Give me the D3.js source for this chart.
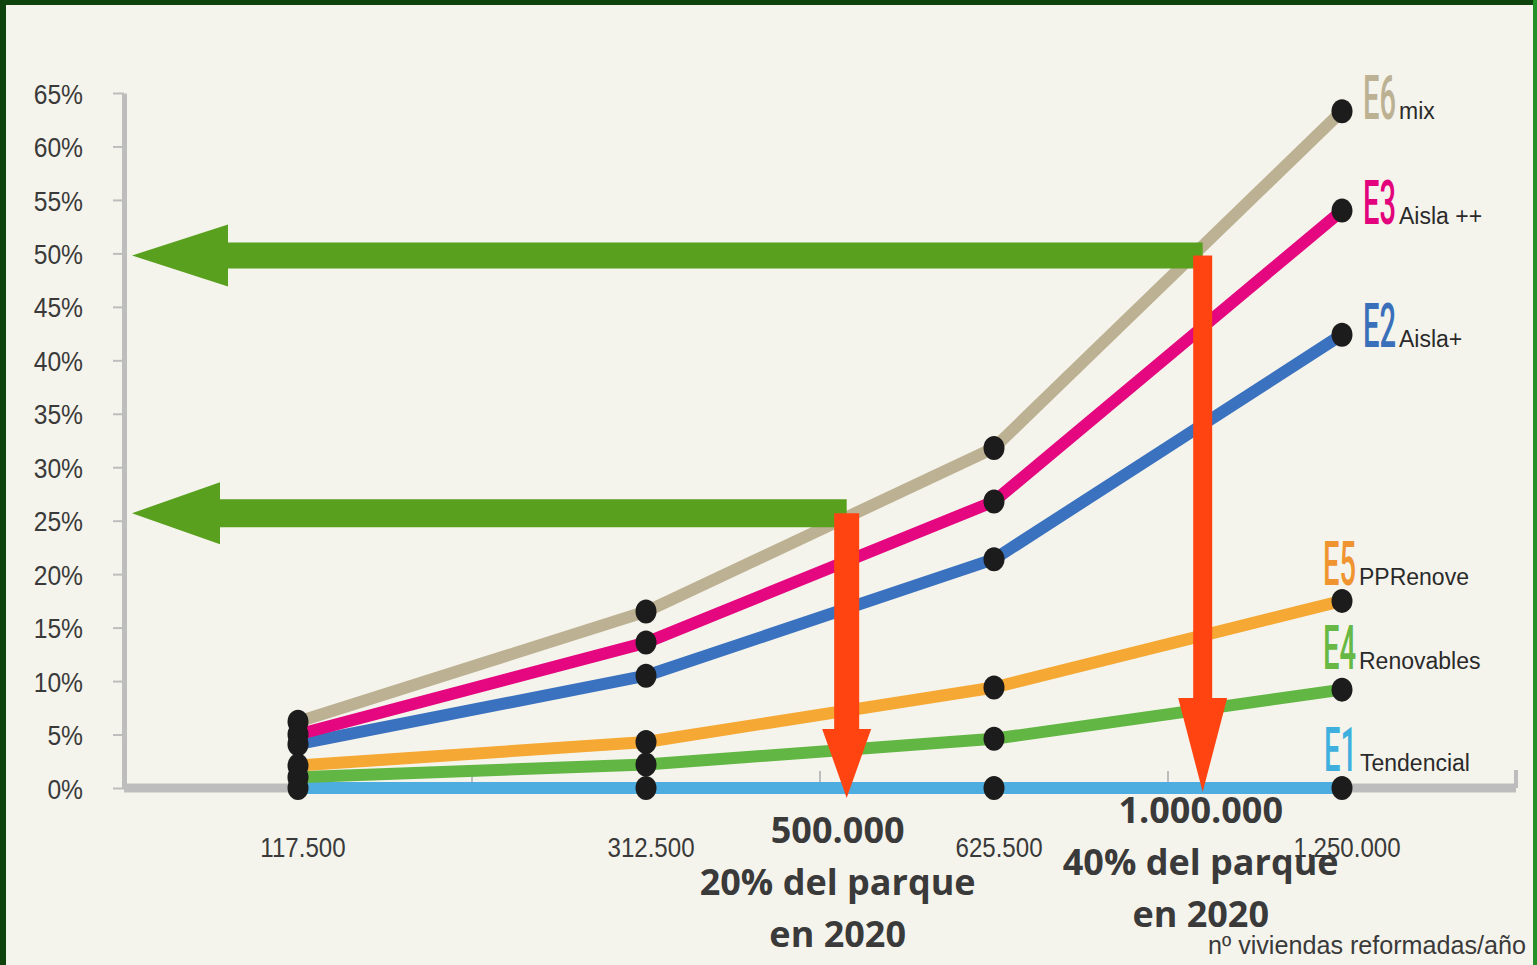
<!DOCTYPE html>
<html>
<head>
<meta charset="utf-8">
<script src="https://cdn.jsdelivr.net/npm/d3@7"></script>
<style>
  html, body { margin: 0; padding: 0; background: #0e430e; }
  svg { display: block; }
</style>
</head>
<body>
<svg id="chart" width="1537" height="965"></svg>
<script>
// ---------------- DATA ----------------
const categories = ["117.500", "312.500", "625.500", "1.250.000"];
const seriesCodes = ["E6", "E3", "E2", "E5", "E4", "E1"];
const seriesNames = ["mix", "Aisla ++", "Aisla+", "PPRenove", "Renovables", "Tendencial"];
const valuesE6 = [6.2, 16.5, 31.8, 63.3];
const valuesE3 = [5.0, 13.6, 26.8, 54.0];
const valuesE2 = [4.1, 10.5, 21.4, 42.4];
const valuesE5 = [2.1, 4.3, 9.4, 17.5];
const valuesE4 = [1.0, 2.2, 4.6, 9.2];
const valuesE1 = [0, 0, 0, 0];
const yTickValues = [0, 5, 10, 15, 20, 25, 30, 35, 40, 45, 50, 55, 60, 65];
const xAxisTitle = "nº viviendas reformadas/año";
// annotations: position on the x axis (viviendas/año, as drawn) and level (%)
const annotationX = [493000, 1000000];
const annotationY = [25.7, 49.8];
const annotationText = [
  ["500.000", "20% del parque", "en 2020"],
  ["1.000.000", "40% del parque", "en 2020"]
];
const categoryNumbers = [117500, 312500, 625500, 1250000];

const seriesValues = [valuesE6, valuesE3, valuesE2, valuesE5, valuesE4, valuesE1];

// ---------------- STYLE ----------------
const lineColors = ["#bdb193", "#e4077f", "#3b72bf", "#f5a833", "#62b744", "#4dade1"];
const codeColors = ["#bcb192", "#e2037d", "#3a6fba", "#ef9430", "#68b845", "#3fb0de"];
const labelDx = [21, 21, 21, -19, -19, -18];
const labelDy = [8, 13, 12, -16, -21, -17];

const W = 1537, H = 965;
const svg = d3.select("#chart");

// frame
svg.append("rect").attr("x", 0).attr("y", 0).attr("width", W).attr("height", H).attr("fill", "#0e430e");
svg.append("rect").attr("x", 1533).attr("y", 0).attr("width", 4).attr("height", H).attr("fill", "#23902a");
svg.append("rect").attr("x", 6).attr("y", 5).attr("width", 1527).attr("height", H - 5).attr("fill", "#f5f4ec");

// scales
const y = d3.scaleLinear().domain([0, 65]).range([788, 93]);
const xBand = d3.scaleBand().domain(categories).range([124, 1516]).padding(0);
const xc = c => xBand(c) + xBand.bandwidth() / 2;
const xNum = d3.scaleLinear().domain(categoryNumbers).range(categories.map(xc));

function squeeze(sel, f) {
  sel.each(function () {
    const w = this.getComputedTextLength();
    this.setAttribute("textLength", w * f);
    this.setAttribute("lengthAdjust", "spacingAndGlyphs");
  });
}

// y axis
const gy = svg.append("g").attr("transform", "translate(124,0)")
  .call(d3.axisLeft(y).tickValues(yTickValues).tickFormat(d => d + "%")
    .tickSize(11).tickSizeOuter(0).tickPadding(30));
gy.select(".domain").attr("stroke", "#bdbdbd").attr("stroke-width", 5);
gy.selectAll(".tick line").attr("stroke", "#bdbdbd").attr("stroke-width", 2);
gy.selectAll(".tick text")
  .attr("font-family", "Liberation Sans, Arial, sans-serif")
  .attr("font-size", 28).attr("fill", "#3a3a3a").attr("dy", "0.36em");
squeeze(gy.selectAll(".tick text"), 0.88);

// x axis line and band ticks
const y0 = y(0);
svg.append("line").attr("x1", 124).attr("x2", xBand.range()[1])
  .attr("y1", y0).attr("y2", y0).attr("stroke", "#bdbdbd").attr("stroke-width", 9);
const bounds = categories.slice(1).map(c => xBand(c)).concat([xBand.range()[1]]);
svg.append("g").selectAll("line").data(bounds).join("line")
  .attr("x1", d => d).attr("x2", d => d)
  .attr("y1", (d, i) => i === bounds.length - 1 ? y0 : y0 - 4)
  .attr("y2", (d, i) => i === bounds.length - 1 ? y0 - 18 : y0 - 17)
  .attr("stroke", "#bdbdbd").attr("stroke-width", (d, i) => i === bounds.length - 1 ? 4 : 2);

// x labels via axis
const gx = svg.append("g").attr("transform", `translate(5,${y0})`)
  .call(d3.axisBottom(xBand).tickSize(0).tickPadding(49));
gx.select(".domain").remove();
gx.selectAll(".tick text")
  .attr("font-family", "Liberation Sans, Arial, sans-serif")
  .attr("font-size", 28).attr("fill", "#3a3a3a");
squeeze(gx.selectAll(".tick text"), 0.86);

// lines
const line = d3.line().x((d, i) => xc(categories[i])).y(d => y(d));
const order = [5, 4, 3, 2, 1, 0];
svg.append("g").selectAll("path").data(order).join("path")
  .attr("d", k => line(seriesValues[k]))
  .attr("fill", "none").attr("stroke", k => lineColors[k])
  .attr("stroke-width", 12).attr("stroke-linejoin", "round");

// dots
const dots = [];
seriesValues.forEach((vals, k) => vals.forEach((v, i) => dots.push({ k, i, v })));
svg.append("g").selectAll("ellipse").data(dots).join("ellipse")
  .attr("cx", d => xc(categories[d.i])).attr("cy", d => y(d.v))
  .attr("rx", 10.5).attr("ry", 12).attr("fill", "#1c1c1c");

// series labels
const lastX = xc(categories[categories.length - 1]);
const lab = svg.append("g");
seriesCodes.forEach((code, k) => {
  const lx = lastX + labelDx[k];
  const ly = y(seriesValues[k][seriesValues[k].length - 1]) + labelDy[k];
  const t = lab.append("text").attr("x", 0).attr("y", 0).text(code)
    .attr("font-family", "Roboto, Liberation Sans, sans-serif").attr("font-weight", 500)
    .attr("font-size", 62).attr("fill", codeColors[k]);
  const w = t.node().getComputedTextLength();
  t.attr("transform", `translate(${lx},${ly}) scale(${33 / w},1)`);
  lab.append("text").attr("x", lx + 36).attr("y", ly).text(seriesNames[k])
    .attr("font-family", "Liberation Sans, Arial, sans-serif")
    .attr("font-size", 23).attr("fill", "#2a2a2a");
});

// annotation arrows
const green = "#58a01e", red = "#ff4412";
const annStyle = [
  { gThick: 28, gHeadLen: 88, gHeadH: 62, rW: 25, rHeadW: 49, rHeadLen: 69, tipDrop: 10, textDx: -9, textY0: 843 },
  { gThick: 26, gHeadLen: 96, gHeadH: 62, rW: 19, rHeadW: 49, rHeadLen: 94, tipDrop: 4, textDx: -2, textY0: 823 }
];
const ann = svg.append("g");
annotationX.forEach((xv, a) => {
  const s = annStyle[a];
  const ax = xNum(xv), ay = y(annotationY[a]);
  const tipX = 132;
  // green horizontal arrow
  ann.append("path").attr("fill", green).attr("d",
    `M${tipX},${ay} L${tipX + s.gHeadLen},${ay - s.gHeadH / 2} L${tipX + s.gHeadLen},${ay - s.gThick / 2}
     L${ax},${ay - s.gThick / 2} L${ax},${ay + s.gThick / 2} L${tipX + s.gHeadLen},${ay + s.gThick / 2}
     L${tipX + s.gHeadLen},${ay + s.gHeadH / 2} Z`);
  // red vertical arrow
  const tipY = y0 + s.tipDrop, baseY = tipY - s.rHeadLen;
  ann.append("path").attr("fill", red).attr("d",
    `M${ax - s.rW / 2},${ay} L${ax + s.rW / 2},${ay} L${ax + s.rW / 2},${baseY}
     L${ax + s.rHeadW / 2},${baseY} L${ax},${tipY} L${ax - s.rHeadW / 2},${baseY}
     L${ax - s.rW / 2},${baseY} Z`);
  // text
  annotationText[a].forEach((t, j) => {
    ann.append("text").attr("x", ax + s.textDx).attr("y", s.textY0 + j * 52)
      .attr("text-anchor", "middle").text(t)
      .attr("font-family", "Open Sans, sans-serif").attr("font-weight", 700)
      .attr("font-size", 36).attr("fill", "#3a3a3a");
  });
});

// axis title
svg.append("text").attr("x", 1526).attr("y", 954).attr("text-anchor", "end")
  .text(xAxisTitle)
  .attr("font-family", "Liberation Sans, Arial, sans-serif")
  .attr("font-size", 26).attr("fill", "#3a3a3a")
  .attr("textLength", 318).attr("lengthAdjust", "spacingAndGlyphs");
</script>
</body>
</html>
